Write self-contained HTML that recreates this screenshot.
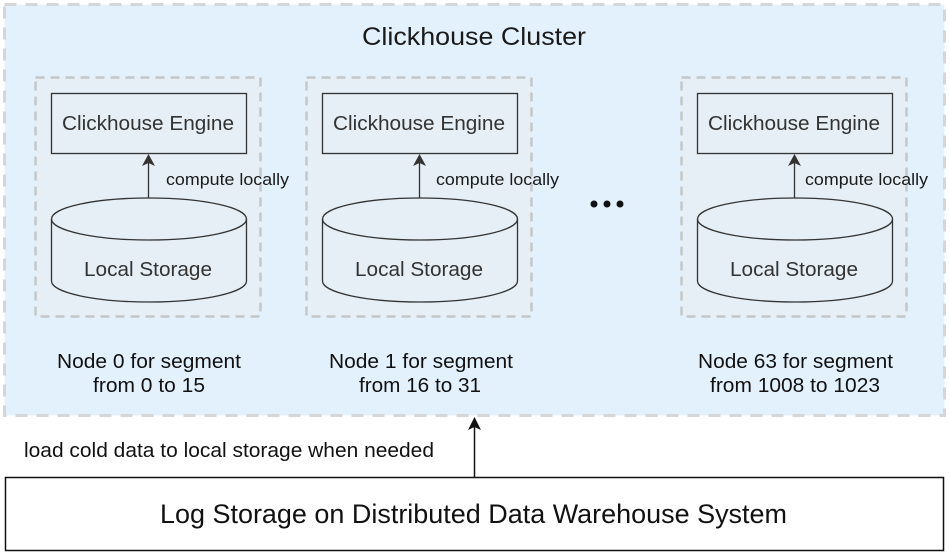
<!DOCTYPE html>
<html><head><style>html,body{margin:0;padding:0;background:#fff}svg{display:block}text{font-family:"Liberation Sans",Arial,sans-serif}</style></head><body>
<svg width="949" height="556" viewBox="0 0 949 556" xmlns="http://www.w3.org/2000/svg">
<rect x="4.5" y="4.5" width="940" height="411" fill="#e3f1fd" stroke="#d3d7da" stroke-width="3" stroke-dasharray="12 9"/>
<text x="474" y="45" font-size="25" text-anchor="middle" fill="#1a1a1a" textLength="224" lengthAdjust="spacingAndGlyphs">Clickhouse Cluster</text>
<g id="n">
<rect x="35.5" y="77.5" width="225" height="239" fill="#e6eff5" stroke="#c4c7ca" stroke-width="2.5" stroke-dasharray="9 6"/>
<rect x="51.5" y="93.5" width="195" height="60" fill="#e6eff5" stroke="#333" stroke-width="1.3"/>
<text x="148" y="130" font-size="20" text-anchor="middle" fill="#333" textLength="172" lengthAdjust="spacingAndGlyphs">Clickhouse Engine</text>
<line x1="148.5" y1="198" x2="148.5" y2="162" stroke="#333" stroke-width="1.3"/>
<path d="M148.5 154 L142 166 L148.5 163 L155 166 Z" fill="#333"/>
<path d="M51.5 219 A97.5 21 0 0 1 246.5 219 L246.5 281 A97.5 21 0 0 1 51.5 281 Z" fill="#e6eff5" stroke="#333" stroke-width="1.3"/>
<path d="M51.5 219 A97.5 21 0 0 0 246.5 219" fill="none" stroke="#333" stroke-width="1.3"/>
<text x="148" y="276" font-size="20" text-anchor="middle" fill="#333" textLength="128" lengthAdjust="spacingAndGlyphs">Local Storage</text>
</g>
<use href="#n" transform="translate(271,0)"/>
<use href="#n" transform="translate(646,0)"/>
<g font-size="17" fill="#1a1a1a">
<text x="166" y="185" textLength="123" lengthAdjust="spacingAndGlyphs">compute locally</text>
<text x="436" y="185" textLength="123" lengthAdjust="spacingAndGlyphs">compute locally</text>
<text x="805" y="185" textLength="123" lengthAdjust="spacingAndGlyphs">compute locally</text>
</g>
<g font-size="20" text-anchor="middle" fill="#111">
<text x="149" y="368" textLength="184" lengthAdjust="spacingAndGlyphs">Node 0 for segment</text>
<text x="149" y="392" textLength="112" lengthAdjust="spacingAndGlyphs">from 0 to 15</text>
<text x="421" y="368" textLength="184" lengthAdjust="spacingAndGlyphs">Node 1 for segment</text>
<text x="420" y="392" textLength="122" lengthAdjust="spacingAndGlyphs">from 16 to 31</text>
<text x="795.5" y="368" textLength="195" lengthAdjust="spacingAndGlyphs">Node 63 for segment</text>
<text x="795" y="392" textLength="170" lengthAdjust="spacingAndGlyphs">from 1008 to 1023</text>
</g>
<circle cx="594" cy="204" r="3.5" fill="#111"/><circle cx="607" cy="204" r="3.5" fill="#111"/><circle cx="620" cy="204" r="3.5" fill="#111"/>
<rect x="5.5" y="477.5" width="938" height="73" fill="#fff" stroke="#111" stroke-width="1.5"/>
<text x="473.5" y="523" font-size="27" text-anchor="middle" fill="#111" textLength="627" lengthAdjust="spacingAndGlyphs">Log Storage on Distributed Data Warehouse System</text>
<line x1="474.5" y1="477" x2="474.5" y2="426" stroke="#111" stroke-width="1.5"/>
<path d="M474.5 417 L468 430 L474.5 427 L481 430 Z" fill="#111"/>
<text x="24" y="457" font-size="20" fill="#111" textLength="410" lengthAdjust="spacingAndGlyphs">load cold data to local storage when needed</text>
</svg>
</body></html>
